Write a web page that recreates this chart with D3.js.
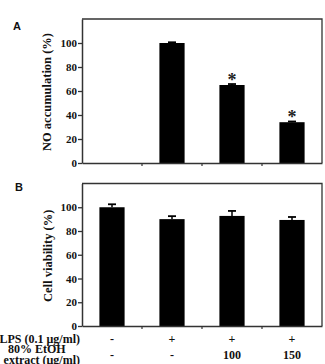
<!DOCTYPE html>
<html><head><meta charset="utf-8">
<script src="https://cdn.jsdelivr.net/npm/d3@7"></script>
<style>
html,body{margin:0;padding:0;background:#fff;}
svg{display:block;}
</style></head>
<body>
<svg id="chart" width="325" height="364"></svg>
<script>
const categories = ["Control", "LPS", "LPS+EtOH100", "LPS+EtOH150"];
const lpsLabels = ["-", "+", "+", "+"];
const extractLabels = ["-", "-", "100", "150"];
const noValues = [0, 100, 65, 34];
const noErrors = [0, 0.6, 0.8, 0.6];
const noSignificant = [false, false, true, true];
const viabilityValues = [100, 90, 92.7, 89.3];
const viabilityErrors = [2.5, 2.5, 4.2, 2.5];
const yTicks = [0, 20, 40, 60, 80, 100];

const svg = d3.select("#chart");
const serif = "'Liberation Serif','Times New Roman',serif";
const sans = "'Liberation Sans',Arial,sans-serif";
const frameColor = "#333";

const x = d3.scaleBand().domain(categories).range([82, 322])
  .paddingInner(0.58).paddingOuter(0.29);

function panel(opts) {
  const y = d3.scaleLinear().domain([0, 120]).range([opts.bottom, opts.top]);
  const g = svg.append("g");
  const data = categories.map((c, i) => ({c, v: opts.values[i], e: opts.errors[i], s: opts.sig ? opts.sig[i] : false}));

  g.selectAll("rect.bar").data(data.filter(d => d.v > 0)).join("rect")
    .attr("x", d => x(d.c)).attr("width", x.bandwidth())
    .attr("y", d => y(d.v)).attr("height", d => y(0) - y(d.v))
    .attr("fill", "#000");

  const eb = data.filter(d => d.v > 0 && d.e > 0);
  g.selectAll("line.err").data(eb).join("line")
    .attr("x1", d => x(d.c) + x.bandwidth() / 2).attr("x2", d => x(d.c) + x.bandwidth() / 2)
    .attr("y1", d => y(d.v)).attr("y2", d => y(d.v + d.e))
    .attr("stroke", "#000").attr("stroke-width", 1.5);
  g.selectAll("line.cap").data(eb).join("line")
    .attr("x1", d => x(d.c) + x.bandwidth() / 2 - 4).attr("x2", d => x(d.c) + x.bandwidth() / 2 + 4)
    .attr("y1", d => y(d.v + d.e)).attr("y2", d => y(d.v + d.e))
    .attr("stroke", "#000").attr("stroke-width", 1.8);

  g.selectAll("text.sig").data(data.filter(d => d.s)).join("text")
    .attr("x", d => x(d.c) + x.bandwidth() / 2)
    .attr("y", d => y(d.v + d.e) + 2)
    .attr("text-anchor", "middle")
    .style("font-family", serif).style("font-weight", "bold").style("font-size", "18px")
    .attr("fill", "#222").text("*");

  g.append("path")
    .attr("d", `M82,${opts.top}H322V${opts.bottom}`)
    .attr("fill", "none").attr("stroke", frameColor).attr("stroke-width", 1.3);

  const ya = g.append("g").attr("transform", "translate(82,0)")
    .call(d3.axisLeft(y).tickValues(yTicks).tickSize(4).tickSizeOuter(0).tickPadding(1));
  ya.select(".domain").attr("stroke", frameColor).attr("stroke-width", 1.5);
  ya.selectAll(".tick line").attr("stroke", frameColor).attr("stroke-width", 1.3);
  ya.selectAll(".tick text").style("font-family", serif).style("font-weight", "bold")
    .style("font-size", "11px").attr("fill", "#111");

  const xa = g.append("g").attr("transform", `translate(0,${opts.bottom})`)
    .call(d3.axisBottom(x).tickSize(0).tickSizeOuter(0).tickFormat(""));
  xa.select(".domain").attr("stroke", frameColor).attr("stroke-width", 1.5);
  const bounds = categories.slice(1).map(c => x(c) - (x.step() - x.bandwidth()) / 2);
  g.selectAll("line.xt").data(bounds).join("line")
    .attr("x1", d => d).attr("x2", d => d)
    .attr("y1", opts.bottom).attr("y2", opts.bottom + 3)
    .attr("stroke", frameColor).attr("stroke-width", 1.2);

  g.append("text")
    .attr("transform", `translate(${opts.labelX},${(opts.top + opts.bottom) / 2 + 1}) rotate(-90)`)
    .attr("text-anchor", "middle")
    .style("font-family", serif).style("font-weight", "bold").style("font-size", "12.5px")
    .attr("fill", "#111").text(opts.label);

  g.append("text").attr("x", opts.letterX).attr("y", opts.letterY)
    .style("font-family", sans).style("font-weight", "bold").style("font-size", "11px")
    .attr("fill", "#111").text(opts.letter);
  return y;
}

panel({top: 19, bottom: 163, values: noValues, errors: noErrors, sig: noSignificant,
  label: "NO accumulation (%)", labelX: 51, letter: "A", letterX: 13, letterY: 30});
panel({top: 183.5, bottom: 326, values: viabilityValues, errors: viabilityErrors, sig: null,
  label: "Cell viability (%)", labelX: 52, letter: "B", letterX: 15, letterY: 191});

const rowFont = g => g.style("font-family", serif).style("font-weight", "bold").style("font-size", "12px").attr("fill", "#111");
svg.append("text").attr("x", 80).attr("y", 343).attr("text-anchor", "end").call(rowFont).text("LPS (0.1 μg/ml)");
svg.append("text").attr("x", 8).attr("y", 352.5).attr("text-anchor", "start").call(rowFont).text("80% EtOH");
svg.append("text").attr("x", 80).attr("y", 364).attr("text-anchor", "end").call(rowFont).text("extract (μg/ml)");
svg.selectAll("text.lps").data(lpsLabels).join("text")
  .attr("x", (d, i) => x(categories[i]) + x.bandwidth() / 2).attr("y", 343)
  .attr("text-anchor", "middle").call(rowFont).text(d => d);
svg.selectAll("text.ext").data(extractLabels).join("text")
  .attr("x", (d, i) => x(categories[i]) + x.bandwidth() / 2).attr("y", 358.5)
  .attr("text-anchor", "middle").call(rowFont).text(d => d);
</script>
</body></html>
